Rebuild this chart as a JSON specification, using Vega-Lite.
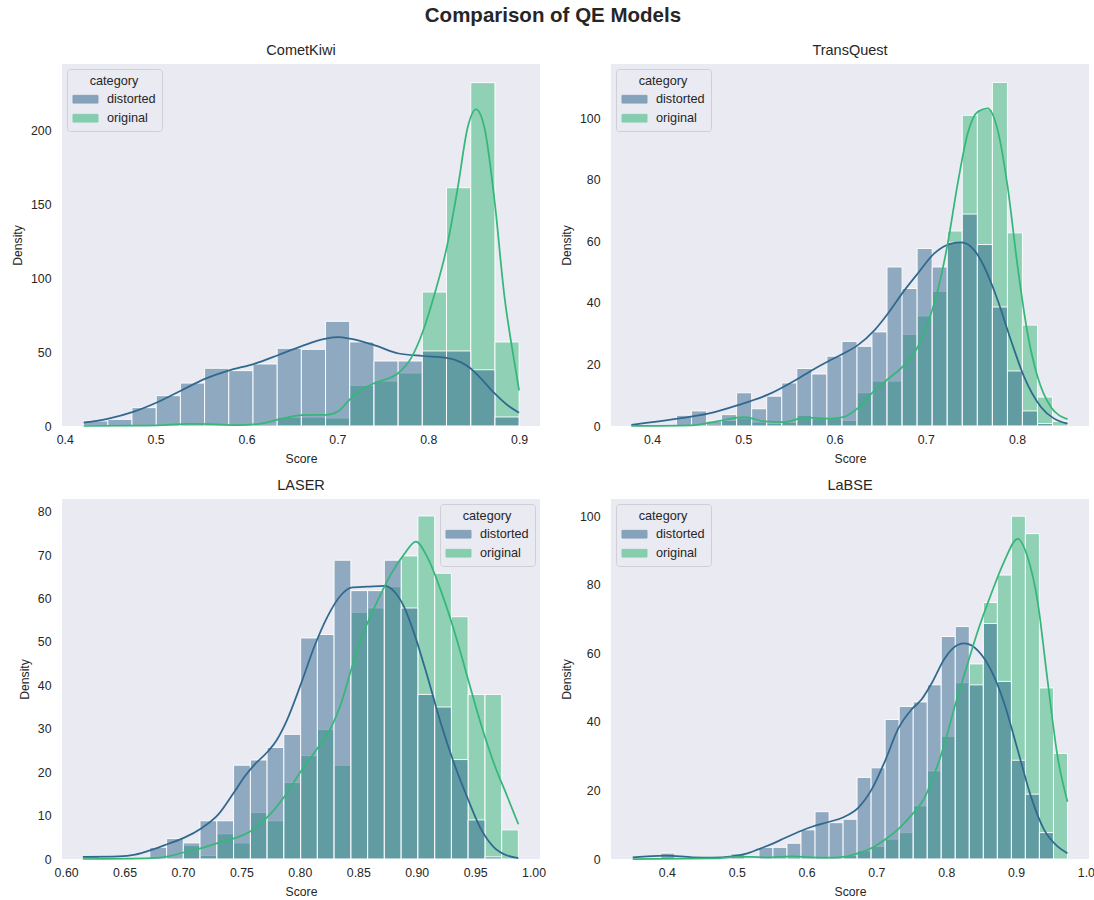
{
  "$schema": "https://vega.github.io/schema/vega-lite/v6.json",
  "background": "white",
  "padding": {"left": 11, "top": 6, "right": 5, "bottom": 5},
  "title": {"text": "Comparison of QE Models", "fontSize": 20.5, "fontWeight": "bold", "font": "Liberation Sans", "color": "#262626", "anchor": "middle", "frame": "bounds", "offset": 16},
  "config": {
    "view": {"fill": "#eaeaf2", "stroke": null},
    "axis": {"domain": false, "ticks": false, "grid": false, "labelFont": "Liberation Sans", "labelFontSize": 12.3, "labelColor": "#262626", "titleFont": "Liberation Sans", "titleFontSize": 12.2, "titleFontWeight": "normal", "titleColor": "#262626", "labelFlush": false, "labelOverlap": false},
    "axisX": {"labelPadding": 7, "titlePadding": 7},
    "axisY": {"labelPadding": 11, "titlePadding": 6},
    "title": {"font": "Liberation Sans", "fontSize": 14.5, "fontWeight": "normal", "color": "#262626", "anchor": "middle", "offset": 6},
    "legend": {"titleFont": "Liberation Sans", "titleFontSize": 12.7, "titleFontWeight": "normal", "titleColor": "#262626", "titleAnchor": "middle", "titlePadding": 4, "labelFont": "Liberation Sans", "labelFontSize": 12.7, "labelColor": "#262626", "labelOffset": 14, "symbolType": "M-1.786,-0.55H1.786V0.55H-1.786Z", "symbolSize": 196, "symbolOffset": 5, "symbolStrokeColor": "white", "symbolStrokeWidth": 1, "symbolOpacity": 0.55, "padding": 6, "rowPadding": 4, "fillColor": "#eaeaf2", "strokeColor": "#cfcfd6", "cornerRadius": 3, "offset": 5}
  },
  "datasets": {
    "hist": [
      {"model": "CometKiwi", "category": "original", "start": 0.5007, "end": 0.5273, "density": 0.8},
      {"model": "CometKiwi", "category": "original", "start": 0.5273, "end": 0.5539, "density": 1},
      {"model": "CometKiwi", "category": "original", "start": 0.5539, "end": 0.5805, "density": 0.8},
      {"model": "CometKiwi", "category": "original", "start": 0.5805, "end": 0.6072, "density": 0.4},
      {"model": "CometKiwi", "category": "original", "start": 0.6072, "end": 0.6338, "density": 0.8},
      {"model": "CometKiwi", "category": "original", "start": 0.6338, "end": 0.6604, "density": 6},
      {"model": "CometKiwi", "category": "original", "start": 0.6604, "end": 0.6870, "density": 6},
      {"model": "CometKiwi", "category": "original", "start": 0.6870, "end": 0.7136, "density": 5.4},
      {"model": "CometKiwi", "category": "original", "start": 0.7136, "end": 0.7403, "density": 27.5},
      {"model": "CometKiwi", "category": "original", "start": 0.7403, "end": 0.7669, "density": 30.4},
      {"model": "CometKiwi", "category": "original", "start": 0.7669, "end": 0.7935, "density": 35.8},
      {"model": "CometKiwi", "category": "original", "start": 0.7935, "end": 0.8201, "density": 90.5},
      {"model": "CometKiwi", "category": "original", "start": 0.8201, "end": 0.8468, "density": 161},
      {"model": "CometKiwi", "category": "original", "start": 0.8468, "end": 0.8734, "density": 232},
      {"model": "CometKiwi", "category": "original", "start": 0.8734, "end": 0.9000, "density": 56.8},
      {"model": "CometKiwi", "category": "distorted", "start": 0.4208, "end": 0.4474, "density": 3.4},
      {"model": "CometKiwi", "category": "distorted", "start": 0.4474, "end": 0.4740, "density": 4.5},
      {"model": "CometKiwi", "category": "distorted", "start": 0.4740, "end": 0.5007, "density": 12.4},
      {"model": "CometKiwi", "category": "distorted", "start": 0.5007, "end": 0.5273, "density": 20.5},
      {"model": "CometKiwi", "category": "distorted", "start": 0.5273, "end": 0.5539, "density": 29},
      {"model": "CometKiwi", "category": "distorted", "start": 0.5539, "end": 0.5805, "density": 39},
      {"model": "CometKiwi", "category": "distorted", "start": 0.5805, "end": 0.6072, "density": 37.4},
      {"model": "CometKiwi", "category": "distorted", "start": 0.6072, "end": 0.6338, "density": 41.9},
      {"model": "CometKiwi", "category": "distorted", "start": 0.6338, "end": 0.6604, "density": 52.5},
      {"model": "CometKiwi", "category": "distorted", "start": 0.6604, "end": 0.6870, "density": 51.8},
      {"model": "CometKiwi", "category": "distorted", "start": 0.6870, "end": 0.7136, "density": 70.7},
      {"model": "CometKiwi", "category": "distorted", "start": 0.7136, "end": 0.7403, "density": 56.8},
      {"model": "CometKiwi", "category": "distorted", "start": 0.7403, "end": 0.7669, "density": 43.9},
      {"model": "CometKiwi", "category": "distorted", "start": 0.7669, "end": 0.7935, "density": 43.9},
      {"model": "CometKiwi", "category": "distorted", "start": 0.7935, "end": 0.8201, "density": 50.7},
      {"model": "CometKiwi", "category": "distorted", "start": 0.8201, "end": 0.8468, "density": 50.7},
      {"model": "CometKiwi", "category": "distorted", "start": 0.8468, "end": 0.8734, "density": 38},
      {"model": "CometKiwi", "category": "distorted", "start": 0.8734, "end": 0.9000, "density": 6.1},

      {"model": "TransQuest", "category": "original", "start": 0.4598, "end": 0.4762, "density": 0.5},
      {"model": "TransQuest", "category": "original", "start": 0.4762, "end": 0.4927, "density": 1.8},
      {"model": "TransQuest", "category": "original", "start": 0.4927, "end": 0.5092, "density": 2.6},
      {"model": "TransQuest", "category": "original", "start": 0.5092, "end": 0.5257, "density": 1.3},
      {"model": "TransQuest", "category": "original", "start": 0.5257, "end": 0.5422, "density": 0.8},
      {"model": "TransQuest", "category": "original", "start": 0.5422, "end": 0.5587, "density": 1.2},
      {"model": "TransQuest", "category": "original", "start": 0.5587, "end": 0.5752, "density": 3.5},
      {"model": "TransQuest", "category": "original", "start": 0.5752, "end": 0.5917, "density": 2.4},
      {"model": "TransQuest", "category": "original", "start": 0.5917, "end": 0.6082, "density": 2.4},
      {"model": "TransQuest", "category": "original", "start": 0.6082, "end": 0.6247, "density": 1.8},
      {"model": "TransQuest", "category": "original", "start": 0.6247, "end": 0.6411, "density": 10.8},
      {"model": "TransQuest", "category": "original", "start": 0.6411, "end": 0.6576, "density": 14.6},
      {"model": "TransQuest", "category": "original", "start": 0.6576, "end": 0.6741, "density": 14.6},
      {"model": "TransQuest", "category": "original", "start": 0.6741, "end": 0.6906, "density": 29.8},
      {"model": "TransQuest", "category": "original", "start": 0.6906, "end": 0.7071, "density": 35.8},
      {"model": "TransQuest", "category": "original", "start": 0.7071, "end": 0.7236, "density": 43.8},
      {"model": "TransQuest", "category": "original", "start": 0.7236, "end": 0.7401, "density": 63.4},
      {"model": "TransQuest", "category": "original", "start": 0.7401, "end": 0.7566, "density": 101},
      {"model": "TransQuest", "category": "original", "start": 0.7566, "end": 0.7731, "density": 103},
      {"model": "TransQuest", "category": "original", "start": 0.7731, "end": 0.7896, "density": 111.7},
      {"model": "TransQuest", "category": "original", "start": 0.7896, "end": 0.8060, "density": 62.8},
      {"model": "TransQuest", "category": "original", "start": 0.8060, "end": 0.8225, "density": 32.8},
      {"model": "TransQuest", "category": "original", "start": 0.8225, "end": 0.8390, "density": 9.4},
      {"model": "TransQuest", "category": "original", "start": 0.8390, "end": 0.8555, "density": 1.5},
      {"model": "TransQuest", "category": "distorted", "start": 0.4268, "end": 0.4433, "density": 3.5},
      {"model": "TransQuest", "category": "distorted", "start": 0.4433, "end": 0.4598, "density": 4.9},
      {"model": "TransQuest", "category": "distorted", "start": 0.4598, "end": 0.4762, "density": 1.6},
      {"model": "TransQuest", "category": "distorted", "start": 0.4762, "end": 0.4927, "density": 3.7},
      {"model": "TransQuest", "category": "distorted", "start": 0.4927, "end": 0.5092, "density": 10.8},
      {"model": "TransQuest", "category": "distorted", "start": 0.5092, "end": 0.5257, "density": 5.6},
      {"model": "TransQuest", "category": "distorted", "start": 0.5257, "end": 0.5422, "density": 9.7},
      {"model": "TransQuest", "category": "distorted", "start": 0.5422, "end": 0.5587, "density": 14},
      {"model": "TransQuest", "category": "distorted", "start": 0.5587, "end": 0.5752, "density": 18.7},
      {"model": "TransQuest", "category": "distorted", "start": 0.5752, "end": 0.5917, "density": 16.9},
      {"model": "TransQuest", "category": "distorted", "start": 0.5917, "end": 0.6082, "density": 22.7},
      {"model": "TransQuest", "category": "distorted", "start": 0.6082, "end": 0.6247, "density": 27.5},
      {"model": "TransQuest", "category": "distorted", "start": 0.6247, "end": 0.6411, "density": 25.9},
      {"model": "TransQuest", "category": "distorted", "start": 0.6411, "end": 0.6576, "density": 30.6},
      {"model": "TransQuest", "category": "distorted", "start": 0.6576, "end": 0.6741, "density": 51.7},
      {"model": "TransQuest", "category": "distorted", "start": 0.6741, "end": 0.6906, "density": 44.7},
      {"model": "TransQuest", "category": "distorted", "start": 0.6906, "end": 0.7071, "density": 57.7},
      {"model": "TransQuest", "category": "distorted", "start": 0.7071, "end": 0.7236, "density": 51.7},
      {"model": "TransQuest", "category": "distorted", "start": 0.7236, "end": 0.7401, "density": 59.7},
      {"model": "TransQuest", "category": "distorted", "start": 0.7401, "end": 0.7566, "density": 68.9},
      {"model": "TransQuest", "category": "distorted", "start": 0.7566, "end": 0.7731, "density": 59},
      {"model": "TransQuest", "category": "distorted", "start": 0.7731, "end": 0.7896, "density": 38.7},
      {"model": "TransQuest", "category": "distorted", "start": 0.7896, "end": 0.8060, "density": 17.9},
      {"model": "TransQuest", "category": "distorted", "start": 0.8060, "end": 0.8225, "density": 4.9},
      {"model": "TransQuest", "category": "distorted", "start": 0.8225, "end": 0.8390, "density": 0.8},

      {"model": "LASER", "category": "original", "start": 0.7003, "end": 0.7146, "density": 3.1},
      {"model": "LASER", "category": "original", "start": 0.7146, "end": 0.7290, "density": 0.8},
      {"model": "LASER", "category": "original", "start": 0.7290, "end": 0.7433, "density": 5.8},
      {"model": "LASER", "category": "original", "start": 0.7433, "end": 0.7577, "density": 3.7},
      {"model": "LASER", "category": "original", "start": 0.7577, "end": 0.7720, "density": 10.7},
      {"model": "LASER", "category": "original", "start": 0.7720, "end": 0.7863, "density": 8.8},
      {"model": "LASER", "category": "original", "start": 0.7863, "end": 0.8007, "density": 17.6},
      {"model": "LASER", "category": "original", "start": 0.8007, "end": 0.8150, "density": 23.8},
      {"model": "LASER", "category": "original", "start": 0.8150, "end": 0.8293, "density": 29.8},
      {"model": "LASER", "category": "original", "start": 0.8293, "end": 0.8437, "density": 21.6},
      {"model": "LASER", "category": "original", "start": 0.8437, "end": 0.8580, "density": 56.8},
      {"model": "LASER", "category": "original", "start": 0.8580, "end": 0.8723, "density": 57.8},
      {"model": "LASER", "category": "original", "start": 0.8723, "end": 0.8867, "density": 62.7},
      {"model": "LASER", "category": "original", "start": 0.8867, "end": 0.9010, "density": 69.8},
      {"model": "LASER", "category": "original", "start": 0.9010, "end": 0.9154, "density": 79},
      {"model": "LASER", "category": "original", "start": 0.9154, "end": 0.9297, "density": 65.8},
      {"model": "LASER", "category": "original", "start": 0.9297, "end": 0.9440, "density": 55.8},
      {"model": "LASER", "category": "original", "start": 0.9440, "end": 0.9584, "density": 37.9},
      {"model": "LASER", "category": "original", "start": 0.9584, "end": 0.9727, "density": 37.9},
      {"model": "LASER", "category": "original", "start": 0.9727, "end": 0.9870, "density": 6.7},
      {"model": "LASER", "category": "distorted", "start": 0.6143, "end": 0.6286, "density": 0.6},
      {"model": "LASER", "category": "distorted", "start": 0.6716, "end": 0.6860, "density": 2.7},
      {"model": "LASER", "category": "distorted", "start": 0.6860, "end": 0.7003, "density": 4.7},
      {"model": "LASER", "category": "distorted", "start": 0.7003, "end": 0.7146, "density": 3.7},
      {"model": "LASER", "category": "distorted", "start": 0.7146, "end": 0.7290, "density": 8.8},
      {"model": "LASER", "category": "distorted", "start": 0.7290, "end": 0.7433, "density": 8.8},
      {"model": "LASER", "category": "distorted", "start": 0.7433, "end": 0.7577, "density": 21.6},
      {"model": "LASER", "category": "distorted", "start": 0.7577, "end": 0.7720, "density": 22.8},
      {"model": "LASER", "category": "distorted", "start": 0.7720, "end": 0.7863, "density": 25.7},
      {"model": "LASER", "category": "distorted", "start": 0.7863, "end": 0.8007, "density": 28.7},
      {"model": "LASER", "category": "distorted", "start": 0.8007, "end": 0.8150, "density": 50.9},
      {"model": "LASER", "category": "distorted", "start": 0.8150, "end": 0.8293, "density": 51.7},
      {"model": "LASER", "category": "distorted", "start": 0.8293, "end": 0.8437, "density": 68.8},
      {"model": "LASER", "category": "distorted", "start": 0.8437, "end": 0.8580, "density": 61.8},
      {"model": "LASER", "category": "distorted", "start": 0.8580, "end": 0.8723, "density": 61.8},
      {"model": "LASER", "category": "distorted", "start": 0.8723, "end": 0.8867, "density": 68.8},
      {"model": "LASER", "category": "distorted", "start": 0.8867, "end": 0.9010, "density": 57.8},
      {"model": "LASER", "category": "distorted", "start": 0.9010, "end": 0.9154, "density": 37.9},
      {"model": "LASER", "category": "distorted", "start": 0.9154, "end": 0.9297, "density": 35},
      {"model": "LASER", "category": "distorted", "start": 0.9297, "end": 0.9440, "density": 22.9},
      {"model": "LASER", "category": "distorted", "start": 0.9440, "end": 0.9584, "density": 9},
      {"model": "LASER", "category": "distorted", "start": 0.9584, "end": 0.9727, "density": 0.5},

      {"model": "LaBSE", "category": "original", "start": 0.5720, "end": 0.5921, "density": 0.5},
      {"model": "LaBSE", "category": "original", "start": 0.5921, "end": 0.6122, "density": 0.5},
      {"model": "LaBSE", "category": "original", "start": 0.6122, "end": 0.6323, "density": 0.5},
      {"model": "LaBSE", "category": "original", "start": 0.6323, "end": 0.6524, "density": 0.5},
      {"model": "LaBSE", "category": "original", "start": 0.6524, "end": 0.6724, "density": 1},
      {"model": "LaBSE", "category": "original", "start": 0.6724, "end": 0.6925, "density": 2.4},
      {"model": "LaBSE", "category": "original", "start": 0.6925, "end": 0.7126, "density": 3.7},
      {"model": "LaBSE", "category": "original", "start": 0.7126, "end": 0.7327, "density": 5.8},
      {"model": "LaBSE", "category": "original", "start": 0.7327, "end": 0.7528, "density": 7.7},
      {"model": "LaBSE", "category": "original", "start": 0.7528, "end": 0.7729, "density": 15.5},
      {"model": "LaBSE", "category": "original", "start": 0.7729, "end": 0.7929, "density": 25.7},
      {"model": "LaBSE", "category": "original", "start": 0.7929, "end": 0.8130, "density": 35.8},
      {"model": "LaBSE", "category": "original", "start": 0.8130, "end": 0.8331, "density": 51.4},
      {"model": "LaBSE", "category": "original", "start": 0.8331, "end": 0.8532, "density": 56.9},
      {"model": "LaBSE", "category": "original", "start": 0.8532, "end": 0.8733, "density": 74.8},
      {"model": "LaBSE", "category": "original", "start": 0.8733, "end": 0.8934, "density": 82.8},
      {"model": "LaBSE", "category": "original", "start": 0.8934, "end": 0.9134, "density": 100},
      {"model": "LaBSE", "category": "original", "start": 0.9134, "end": 0.9335, "density": 94.9},
      {"model": "LaBSE", "category": "original", "start": 0.9335, "end": 0.9536, "density": 49.9},
      {"model": "LaBSE", "category": "original", "start": 0.9536, "end": 0.9737, "density": 30.8},
      {"model": "LaBSE", "category": "distorted", "start": 0.3913, "end": 0.4114, "density": 1.7},
      {"model": "LaBSE", "category": "distorted", "start": 0.4917, "end": 0.5118, "density": 1.5},
      {"model": "LaBSE", "category": "distorted", "start": 0.5319, "end": 0.5519, "density": 3.4},
      {"model": "LaBSE", "category": "distorted", "start": 0.5519, "end": 0.5720, "density": 3.4},
      {"model": "LaBSE", "category": "distorted", "start": 0.5720, "end": 0.5921, "density": 4.6},
      {"model": "LaBSE", "category": "distorted", "start": 0.5921, "end": 0.6122, "density": 8.5},
      {"model": "LaBSE", "category": "distorted", "start": 0.6122, "end": 0.6323, "density": 13.8},
      {"model": "LaBSE", "category": "distorted", "start": 0.6323, "end": 0.6524, "density": 10.6},
      {"model": "LaBSE", "category": "distorted", "start": 0.6524, "end": 0.6724, "density": 11.6},
      {"model": "LaBSE", "category": "distorted", "start": 0.6724, "end": 0.6925, "density": 23.8},
      {"model": "LaBSE", "category": "distorted", "start": 0.6925, "end": 0.7126, "density": 26.6},
      {"model": "LaBSE", "category": "distorted", "start": 0.7126, "end": 0.7327, "density": 40.7},
      {"model": "LaBSE", "category": "distorted", "start": 0.7327, "end": 0.7528, "density": 44.5},
      {"model": "LaBSE", "category": "distorted", "start": 0.7528, "end": 0.7729, "density": 45.8},
      {"model": "LaBSE", "category": "distorted", "start": 0.7729, "end": 0.7929, "density": 50.8},
      {"model": "LaBSE", "category": "distorted", "start": 0.7929, "end": 0.8130, "density": 64.9},
      {"model": "LaBSE", "category": "distorted", "start": 0.8130, "end": 0.8331, "density": 67.8},
      {"model": "LaBSE", "category": "distorted", "start": 0.8331, "end": 0.8532, "density": 50.8},
      {"model": "LaBSE", "category": "distorted", "start": 0.8532, "end": 0.8733, "density": 68.7},
      {"model": "LaBSE", "category": "distorted", "start": 0.8733, "end": 0.8934, "density": 51.8},
      {"model": "LaBSE", "category": "distorted", "start": 0.8934, "end": 0.9134, "density": 28.8},
      {"model": "LaBSE", "category": "distorted", "start": 0.9134, "end": 0.9335, "density": 18.9},
      {"model": "LaBSE", "category": "distorted", "start": 0.9335, "end": 0.9536, "density": 7.7}
    ],
    "kde": [
      {"model": "CometKiwi", "category": "distorted", "score": 0.4208, "density": 2.3},
      {"model": "CometKiwi", "category": "distorted", "score": 0.4482, "density": 5},
      {"model": "CometKiwi", "category": "distorted", "score": 0.4753, "density": 9.5},
      {"model": "CometKiwi", "category": "distorted", "score": 0.5019, "density": 16},
      {"model": "CometKiwi", "category": "distorted", "score": 0.5282, "density": 24},
      {"model": "CometKiwi", "category": "distorted", "score": 0.5549, "density": 32},
      {"model": "CometKiwi", "category": "distorted", "score": 0.5812, "density": 37.6},
      {"model": "CometKiwi", "category": "distorted", "score": 0.6086, "density": 42},
      {"model": "CometKiwi", "category": "distorted", "score": 0.6353, "density": 48},
      {"model": "CometKiwi", "category": "distorted", "score": 0.6608, "density": 54},
      {"model": "CometKiwi", "category": "distorted", "score": 0.6875, "density": 59},
      {"model": "CometKiwi", "category": "distorted", "score": 0.7010, "density": 60},
      {"model": "CometKiwi", "category": "distorted", "score": 0.7138, "density": 59},
      {"model": "CometKiwi", "category": "distorted", "score": 0.7412, "density": 54.5},
      {"model": "CometKiwi", "category": "distorted", "score": 0.7675, "density": 49},
      {"model": "CometKiwi", "category": "distorted", "score": 0.7942, "density": 47.3},
      {"model": "CometKiwi", "category": "distorted", "score": 0.8205, "density": 46},
      {"model": "CometKiwi", "category": "distorted", "score": 0.8362, "density": 43},
      {"model": "CometKiwi", "category": "distorted", "score": 0.8471, "density": 38.7},
      {"model": "CometKiwi", "category": "distorted", "score": 0.8581, "density": 32},
      {"model": "CometKiwi", "category": "distorted", "score": 0.8734, "density": 21.8},
      {"model": "CometKiwi", "category": "distorted", "score": 0.8873, "density": 14},
      {"model": "CometKiwi", "category": "distorted", "score": 0.9000, "density": 9},
      {"model": "CometKiwi", "category": "original", "score": 0.4208, "density": 0},
      {"model": "CometKiwi", "category": "original", "score": 0.4753, "density": 0.2},
      {"model": "CometKiwi", "category": "original", "score": 0.5019, "density": 0.5},
      {"model": "CometKiwi", "category": "original", "score": 0.5375, "density": 1.5},
      {"model": "CometKiwi", "category": "original", "score": 0.5612, "density": 1.3},
      {"model": "CometKiwi", "category": "original", "score": 0.5904, "density": 0.6},
      {"model": "CometKiwi", "category": "original", "score": 0.6160, "density": 1.6},
      {"model": "CometKiwi", "category": "original", "score": 0.6379, "density": 4.8},
      {"model": "CometKiwi", "category": "original", "score": 0.6608, "density": 7.4},
      {"model": "CometKiwi", "category": "original", "score": 0.6875, "density": 7.5},
      {"model": "CometKiwi", "category": "original", "score": 0.7010, "density": 10},
      {"model": "CometKiwi", "category": "original", "score": 0.7138, "density": 18},
      {"model": "CometKiwi", "category": "original", "score": 0.7249, "density": 24},
      {"model": "CometKiwi", "category": "original", "score": 0.7412, "density": 29},
      {"model": "CometKiwi", "category": "original", "score": 0.7675, "density": 36},
      {"model": "CometKiwi", "category": "original", "score": 0.7813, "density": 46},
      {"model": "CometKiwi", "category": "original", "score": 0.7942, "density": 64},
      {"model": "CometKiwi", "category": "original", "score": 0.8069, "density": 89},
      {"model": "CometKiwi", "category": "original", "score": 0.8205, "density": 121},
      {"model": "CometKiwi", "category": "original", "score": 0.8325, "density": 161},
      {"model": "CometKiwi", "category": "original", "score": 0.8435, "density": 202},
      {"model": "CometKiwi", "category": "original", "score": 0.8526, "density": 214},
      {"model": "CometKiwi", "category": "original", "score": 0.8617, "density": 202},
      {"model": "CometKiwi", "category": "original", "score": 0.8734, "density": 150},
      {"model": "CometKiwi", "category": "original", "score": 0.8836, "density": 89},
      {"model": "CometKiwi", "category": "original", "score": 0.8946, "density": 44},
      {"model": "CometKiwi", "category": "original", "score": 0.9000, "density": 24},

      {"model": "TransQuest", "category": "distorted", "score": 0.3773, "density": 0.4},
      {"model": "TransQuest", "category": "distorted", "score": 0.4285, "density": 2.4},
      {"model": "TransQuest", "category": "distorted", "score": 0.4613, "density": 4},
      {"model": "TransQuest", "category": "distorted", "score": 0.4942, "density": 6.8},
      {"model": "TransQuest", "category": "distorted", "score": 0.5270, "density": 10.2},
      {"model": "TransQuest", "category": "distorted", "score": 0.5599, "density": 15.4},
      {"model": "TransQuest", "category": "distorted", "score": 0.5744, "density": 18},
      {"model": "TransQuest", "category": "distorted", "score": 0.5927, "density": 21},
      {"model": "TransQuest", "category": "distorted", "score": 0.6109, "density": 23.7},
      {"model": "TransQuest", "category": "distorted", "score": 0.6256, "density": 26.3},
      {"model": "TransQuest", "category": "distorted", "score": 0.6437, "density": 31.1},
      {"model": "TransQuest", "category": "distorted", "score": 0.6584, "density": 36.5},
      {"model": "TransQuest", "category": "distorted", "score": 0.6766, "density": 44.1},
      {"model": "TransQuest", "category": "distorted", "score": 0.6913, "density": 49.6},
      {"model": "TransQuest", "category": "distorted", "score": 0.7094, "density": 56.1},
      {"model": "TransQuest", "category": "distorted", "score": 0.7277, "density": 59.3},
      {"model": "TransQuest", "category": "distorted", "score": 0.7387, "density": 59.7},
      {"model": "TransQuest", "category": "distorted", "score": 0.7532, "density": 57.2},
      {"model": "TransQuest", "category": "distorted", "score": 0.7642, "density": 51.7},
      {"model": "TransQuest", "category": "distorted", "score": 0.7789, "density": 40.9},
      {"model": "TransQuest", "category": "distorted", "score": 0.7934, "density": 27.9},
      {"model": "TransQuest", "category": "distorted", "score": 0.8080, "density": 15.9},
      {"model": "TransQuest", "category": "distorted", "score": 0.8263, "density": 6.2},
      {"model": "TransQuest", "category": "distorted", "score": 0.8408, "density": 2.4},
      {"model": "TransQuest", "category": "distorted", "score": 0.8555, "density": 0.8},
      {"model": "TransQuest", "category": "original", "score": 0.3773, "density": 0},
      {"model": "TransQuest", "category": "original", "score": 0.4430, "density": 0.2},
      {"model": "TransQuest", "category": "original", "score": 0.4723, "density": 1.6},
      {"model": "TransQuest", "category": "original", "score": 0.5014, "density": 2.9},
      {"model": "TransQuest", "category": "original", "score": 0.5233, "density": 1.5},
      {"model": "TransQuest", "category": "original", "score": 0.5452, "density": 1.3},
      {"model": "TransQuest", "category": "original", "score": 0.5671, "density": 2.7},
      {"model": "TransQuest", "category": "original", "score": 0.5963, "density": 2.4},
      {"model": "TransQuest", "category": "original", "score": 0.6109, "density": 3.0},
      {"model": "TransQuest", "category": "original", "score": 0.6256, "density": 5.8},
      {"model": "TransQuest", "category": "original", "score": 0.6437, "density": 11.5},
      {"model": "TransQuest", "category": "original", "score": 0.6584, "density": 15.2},
      {"model": "TransQuest", "category": "original", "score": 0.6766, "density": 19.9},
      {"model": "TransQuest", "category": "original", "score": 0.6913, "density": 25.7},
      {"model": "TransQuest", "category": "original", "score": 0.7022, "density": 33.3},
      {"model": "TransQuest", "category": "original", "score": 0.7132, "density": 44.1},
      {"model": "TransQuest", "category": "original", "score": 0.7241, "density": 59.3},
      {"model": "TransQuest", "category": "original", "score": 0.7351, "density": 78.9},
      {"model": "TransQuest", "category": "original", "score": 0.7460, "density": 95.1},
      {"model": "TransQuest", "category": "original", "score": 0.7570, "density": 102.2},
      {"model": "TransQuest", "category": "original", "score": 0.7679, "density": 103.3},
      {"model": "TransQuest", "category": "original", "score": 0.7789, "density": 96.2},
      {"model": "TransQuest", "category": "original", "score": 0.7898, "density": 77.8},
      {"model": "TransQuest", "category": "original", "score": 0.8008, "density": 51.7},
      {"model": "TransQuest", "category": "original", "score": 0.8117, "density": 30},
      {"model": "TransQuest", "category": "original", "score": 0.8227, "density": 15.9},
      {"model": "TransQuest", "category": "original", "score": 0.8372, "density": 6.2},
      {"model": "TransQuest", "category": "original", "score": 0.8555, "density": 2.2},

      {"model": "LASER", "category": "distorted", "score": 0.6143, "density": 0.5},
      {"model": "LASER", "category": "distorted", "score": 0.6448, "density": 0.6},
      {"model": "LASER", "category": "distorted", "score": 0.6590, "density": 1},
      {"model": "LASER", "category": "distorted", "score": 0.6732, "density": 2.1},
      {"model": "LASER", "category": "distorted", "score": 0.6875, "density": 3.5},
      {"model": "LASER", "category": "distorted", "score": 0.7003, "density": 4.8},
      {"model": "LASER", "category": "distorted", "score": 0.7159, "density": 7.1},
      {"model": "LASER", "category": "distorted", "score": 0.7301, "density": 10.2},
      {"model": "LASER", "category": "distorted", "score": 0.7443, "density": 15.6},
      {"model": "LASER", "category": "distorted", "score": 0.7528, "density": 19},
      {"model": "LASER", "category": "distorted", "score": 0.7614, "density": 21.8},
      {"model": "LASER", "category": "distorted", "score": 0.7728, "density": 24.8},
      {"model": "LASER", "category": "distorted", "score": 0.7800, "density": 27.3},
      {"model": "LASER", "category": "distorted", "score": 0.7890, "density": 32},
      {"model": "LASER", "category": "distorted", "score": 0.8012, "density": 40.5},
      {"model": "LASER", "category": "distorted", "score": 0.8125, "density": 49},
      {"model": "LASER", "category": "distorted", "score": 0.8240, "density": 56},
      {"model": "LASER", "category": "distorted", "score": 0.8353, "density": 60.8},
      {"model": "LASER", "category": "distorted", "score": 0.8439, "density": 62.5},
      {"model": "LASER", "category": "distorted", "score": 0.8581, "density": 62.7},
      {"model": "LASER", "category": "distorted", "score": 0.8723, "density": 62.9},
      {"model": "LASER", "category": "distorted", "score": 0.8808, "density": 61.6},
      {"model": "LASER", "category": "distorted", "score": 0.8893, "density": 58},
      {"model": "LASER", "category": "distorted", "score": 0.8979, "density": 51.9},
      {"model": "LASER", "category": "distorted", "score": 0.9093, "density": 41.9},
      {"model": "LASER", "category": "distorted", "score": 0.9207, "density": 31.2},
      {"model": "LASER", "category": "distorted", "score": 0.9320, "density": 22},
      {"model": "LASER", "category": "distorted", "score": 0.9434, "density": 14.1},
      {"model": "LASER", "category": "distorted", "score": 0.9548, "density": 7},
      {"model": "LASER", "category": "distorted", "score": 0.9661, "density": 2.7},
      {"model": "LASER", "category": "distorted", "score": 0.9775, "density": 0.8},
      {"model": "LASER", "category": "distorted", "score": 0.9870, "density": 0.2},
      {"model": "LASER", "category": "original", "score": 0.6143, "density": 0},
      {"model": "LASER", "category": "original", "score": 0.6732, "density": 0.2},
      {"model": "LASER", "category": "original", "score": 0.6875, "density": 0.6},
      {"model": "LASER", "category": "original", "score": 0.7003, "density": 1.5},
      {"model": "LASER", "category": "original", "score": 0.7159, "density": 2.5},
      {"model": "LASER", "category": "original", "score": 0.7301, "density": 3.7},
      {"model": "LASER", "category": "original", "score": 0.7443, "density": 4.8},
      {"model": "LASER", "category": "original", "score": 0.7586, "density": 6.5},
      {"model": "LASER", "category": "original", "score": 0.7728, "density": 9.8},
      {"model": "LASER", "category": "original", "score": 0.7869, "density": 14.4},
      {"model": "LASER", "category": "original", "score": 0.8012, "density": 20.3},
      {"model": "LASER", "category": "original", "score": 0.8140, "density": 25.1},
      {"model": "LASER", "category": "original", "score": 0.8268, "density": 30.3},
      {"model": "LASER", "category": "original", "score": 0.8353, "density": 35.8},
      {"model": "LASER", "category": "original", "score": 0.8439, "density": 43.6},
      {"model": "LASER", "category": "original", "score": 0.8552, "density": 52.6},
      {"model": "LASER", "category": "original", "score": 0.8666, "density": 59.5},
      {"model": "LASER", "category": "original", "score": 0.8780, "density": 65.6},
      {"model": "LASER", "category": "original", "score": 0.8893, "density": 70.2},
      {"model": "LASER", "category": "original", "score": 0.8993, "density": 73.1},
      {"model": "LASER", "category": "original", "score": 0.9093, "density": 69.4},
      {"model": "LASER", "category": "original", "score": 0.9207, "density": 61.8},
      {"model": "LASER", "category": "original", "score": 0.9320, "density": 52.6},
      {"model": "LASER", "category": "original", "score": 0.9434, "density": 41.9},
      {"model": "LASER", "category": "original", "score": 0.9548, "density": 31.2},
      {"model": "LASER", "category": "original", "score": 0.9661, "density": 22},
      {"model": "LASER", "category": "original", "score": 0.9775, "density": 14.4},
      {"model": "LASER", "category": "original", "score": 0.9870, "density": 8},

      {"model": "LaBSE", "category": "distorted", "score": 0.3511, "density": 0.5},
      {"model": "LaBSE", "category": "distorted", "score": 0.3986, "density": 1},
      {"model": "LaBSE", "category": "distorted", "score": 0.4366, "density": 0.5},
      {"model": "LaBSE", "category": "distorted", "score": 0.4652, "density": 0.4},
      {"model": "LaBSE", "category": "distorted", "score": 0.4937, "density": 0.8},
      {"model": "LaBSE", "category": "distorted", "score": 0.5126, "density": 1.5},
      {"model": "LaBSE", "category": "distorted", "score": 0.5317, "density": 2.9},
      {"model": "LaBSE", "category": "distorted", "score": 0.5507, "density": 4.4},
      {"model": "LaBSE", "category": "distorted", "score": 0.5697, "density": 6.2},
      {"model": "LaBSE", "category": "distorted", "score": 0.5935, "density": 8.3},
      {"model": "LaBSE", "category": "distorted", "score": 0.6077, "density": 9.4},
      {"model": "LaBSE", "category": "distorted", "score": 0.6315, "density": 10.8},
      {"model": "LaBSE", "category": "distorted", "score": 0.6529, "density": 12.2},
      {"model": "LaBSE", "category": "distorted", "score": 0.6743, "density": 15},
      {"model": "LaBSE", "category": "distorted", "score": 0.6933, "density": 20.3},
      {"model": "LaBSE", "category": "distorted", "score": 0.7122, "density": 28.5},
      {"model": "LaBSE", "category": "distorted", "score": 0.7313, "density": 38},
      {"model": "LaBSE", "category": "distorted", "score": 0.7503, "density": 43.6},
      {"model": "LaBSE", "category": "distorted", "score": 0.7646, "density": 46.5},
      {"model": "LaBSE", "category": "distorted", "score": 0.7788, "density": 51.1},
      {"model": "LaBSE", "category": "distorted", "score": 0.7978, "density": 58.5},
      {"model": "LaBSE", "category": "distorted", "score": 0.8169, "density": 62.5},
      {"model": "LaBSE", "category": "distorted", "score": 0.8263, "density": 62.9},
      {"model": "LaBSE", "category": "distorted", "score": 0.8454, "density": 60.8},
      {"model": "LaBSE", "category": "distorted", "score": 0.8644, "density": 55},
      {"model": "LaBSE", "category": "distorted", "score": 0.8833, "density": 45.3},
      {"model": "LaBSE", "category": "distorted", "score": 0.9024, "density": 31.8},
      {"model": "LaBSE", "category": "distorted", "score": 0.9214, "density": 18.2},
      {"model": "LaBSE", "category": "distorted", "score": 0.9403, "density": 8.5},
      {"model": "LaBSE", "category": "distorted", "score": 0.9594, "density": 3.7},
      {"model": "LaBSE", "category": "distorted", "score": 0.9737, "density": 1.7},
      {"model": "LaBSE", "category": "original", "score": 0.3511, "density": 0},
      {"model": "LaBSE", "category": "original", "score": 0.4747, "density": 0.2},
      {"model": "LaBSE", "category": "original", "score": 0.5032, "density": 0.7},
      {"model": "LaBSE", "category": "original", "score": 0.5411, "density": 0.5},
      {"model": "LaBSE", "category": "original", "score": 0.5792, "density": 0.8},
      {"model": "LaBSE", "category": "original", "score": 0.6077, "density": 0.5},
      {"model": "LaBSE", "category": "original", "score": 0.6362, "density": 0.4},
      {"model": "LaBSE", "category": "original", "score": 0.6552, "density": 0.7},
      {"model": "LaBSE", "category": "original", "score": 0.6743, "density": 1.7},
      {"model": "LaBSE", "category": "original", "score": 0.6933, "density": 3.2},
      {"model": "LaBSE", "category": "original", "score": 0.7122, "density": 5.6},
      {"model": "LaBSE", "category": "original", "score": 0.7313, "density": 8.7},
      {"model": "LaBSE", "category": "original", "score": 0.7503, "density": 12.8},
      {"model": "LaBSE", "category": "original", "score": 0.7693, "density": 18},
      {"model": "LaBSE", "category": "original", "score": 0.7835, "density": 25},
      {"model": "LaBSE", "category": "original", "score": 0.7978, "density": 33.7},
      {"model": "LaBSE", "category": "original", "score": 0.8120, "density": 44.3},
      {"model": "LaBSE", "category": "original", "score": 0.8263, "density": 54},
      {"model": "LaBSE", "category": "original", "score": 0.8454, "density": 66.6},
      {"model": "LaBSE", "category": "original", "score": 0.8644, "density": 77.3},
      {"model": "LaBSE", "category": "original", "score": 0.8833, "density": 86.9},
      {"model": "LaBSE", "category": "original", "score": 0.9024, "density": 93.4},
      {"model": "LaBSE", "category": "original", "score": 0.9167, "density": 88},
      {"model": "LaBSE", "category": "original", "score": 0.9310, "density": 75},
      {"model": "LaBSE", "category": "original", "score": 0.9452, "density": 52},
      {"model": "LaBSE", "category": "original", "score": 0.9594, "density": 30},
      {"model": "LaBSE", "category": "original", "score": 0.9737, "density": 16.7}
    ]
  },
  "concat": [
    {
      "title": "CometKiwi",
      "width": 478, "height": 362,
      "layer": [
        {"data": {"name": "hist"}, "transform": [{"filter": "datum.model === 'CometKiwi'"}],
         "mark": {"type": "bar", "fillOpacity": 0.5, "stroke": "white", "strokeWidth": 1, "strokeOpacity": 0.9},
         "encoding": {
           "x": {"field": "start", "type": "quantitative", "title": "Score", "scale": {"domain": [0.397, 0.923], "nice": false, "zero": false}, "axis": {"values": [0.4, 0.5, 0.6, 0.7, 0.8, 0.9], "format": ".1f"}},
           "x2": {"field": "end"},
           "y": {"field": "density", "type": "quantitative", "stack": null, "title": "Density", "scale": {"domain": [0, 244.6], "nice": false}, "axis": {"values": [0, 50, 100, 150, 200]}},
           "y2": {"datum": 0},
           "color": {"field": "category", "type": "nominal", "title": "category", "scale": {"domain": ["distorted", "original"], "range": ["#31688e", "#35b779"]}, "legend": {"orient": "top-left"}}
         }},
        {"data": {"name": "kde"}, "transform": [{"filter": "datum.model === 'CometKiwi'"}],
         "mark": {"type": "line", "strokeWidth": 1.75, "interpolate": "monotone"},
         "encoding": {
           "x": {"field": "score", "type": "quantitative", "title": "Score"},
           "y": {"field": "density", "type": "quantitative", "title": "Density"},
           "stroke": {"field": "category", "type": "nominal", "scale": {"domain": ["distorted", "original"], "range": ["#31688e", "#35b779"]}, "legend": null}
         }}
      ]
    },
    {
      "title": "TransQuest",
      "width": 478, "height": 362,
      "layer": [
        {"data": {"name": "hist"}, "transform": [{"filter": "datum.model === 'TransQuest'"}],
         "mark": {"type": "bar", "fillOpacity": 0.5, "stroke": "white", "strokeWidth": 1, "strokeOpacity": 0.9},
         "encoding": {
           "x": {"field": "start", "type": "quantitative", "title": "Score", "scale": {"domain": [0.355, 0.879], "nice": false, "zero": false}, "axis": {"values": [0.4, 0.5, 0.6, 0.7, 0.8], "format": ".1f"}},
           "x2": {"field": "end"},
           "y": {"field": "density", "type": "quantitative", "stack": null, "title": "Density", "scale": {"domain": [0, 117.7], "nice": false}, "axis": {"values": [0, 20, 40, 60, 80, 100]}},
           "y2": {"datum": 0},
           "color": {"field": "category", "type": "nominal", "title": "category", "scale": {"domain": ["distorted", "original"], "range": ["#31688e", "#35b779"]}, "legend": {"orient": "top-left"}}
         }},
        {"data": {"name": "kde"}, "transform": [{"filter": "datum.model === 'TransQuest'"}],
         "mark": {"type": "line", "strokeWidth": 1.75, "interpolate": "monotone"},
         "encoding": {
           "x": {"field": "score", "type": "quantitative", "title": "Score"},
           "y": {"field": "density", "type": "quantitative", "title": "Density"},
           "stroke": {"field": "category", "type": "nominal", "scale": {"domain": ["distorted", "original"], "range": ["#31688e", "#35b779"]}, "legend": null}
         }}
      ]
    },
    {
      "title": "LASER",
      "width": 478, "height": 360,
      "layer": [
        {"data": {"name": "hist"}, "transform": [{"filter": "datum.model === 'LASER'"}],
         "mark": {"type": "bar", "fillOpacity": 0.5, "stroke": "white", "strokeWidth": 1, "strokeOpacity": 0.9},
         "encoding": {
           "x": {"field": "start", "type": "quantitative", "title": "Score", "scale": {"domain": [0.5965, 1.0055], "nice": false, "zero": false}, "axis": {"values": [0.6, 0.65, 0.7, 0.75, 0.8, 0.85, 0.9, 0.95, 1.0], "format": ".2f"}},
           "x2": {"field": "end"},
           "y": {"field": "density", "type": "quantitative", "stack": null, "title": "Density", "scale": {"domain": [0, 82.9], "nice": false}, "axis": {"values": [0, 10, 20, 30, 40, 50, 60, 70, 80]}},
           "y2": {"datum": 0},
           "color": {"field": "category", "type": "nominal", "title": "category", "scale": {"domain": ["distorted", "original"], "range": ["#31688e", "#35b779"]}, "legend": {"orient": "top-right"}}
         }},
        {"data": {"name": "kde"}, "transform": [{"filter": "datum.model === 'LASER'"}],
         "mark": {"type": "line", "strokeWidth": 1.75, "interpolate": "monotone"},
         "encoding": {
           "x": {"field": "score", "type": "quantitative", "title": "Score"},
           "y": {"field": "density", "type": "quantitative", "title": "Density"},
           "stroke": {"field": "category", "type": "nominal", "scale": {"domain": ["distorted", "original"], "range": ["#31688e", "#35b779"]}, "legend": null}
         }}
      ]
    },
    {
      "title": "LaBSE",
      "width": 478, "height": 360,
      "layer": [
        {"data": {"name": "hist"}, "transform": [{"filter": "datum.model === 'LaBSE'"}],
         "mark": {"type": "bar", "fillOpacity": 0.5, "stroke": "white", "strokeWidth": 1, "strokeOpacity": 0.9},
         "encoding": {
           "x": {"field": "start", "type": "quantitative", "title": "Score", "scale": {"domain": [0.32, 1.0045], "nice": false, "zero": false}, "axis": {"values": [0.4, 0.5, 0.6, 0.7, 0.8, 0.9, 1.0], "format": ".1f"}},
           "x2": {"field": "end"},
           "y": {"field": "density", "type": "quantitative", "stack": null, "title": "Density", "scale": {"domain": [0, 105], "nice": false}, "axis": {"values": [0, 20, 40, 60, 80, 100]}},
           "y2": {"datum": 0},
           "color": {"field": "category", "type": "nominal", "title": "category", "scale": {"domain": ["distorted", "original"], "range": ["#31688e", "#35b779"]}, "legend": {"orient": "top-left"}}
         }},
        {"data": {"name": "kde"}, "transform": [{"filter": "datum.model === 'LaBSE'"}],
         "mark": {"type": "line", "strokeWidth": 1.75, "interpolate": "monotone"},
         "encoding": {
           "x": {"field": "score", "type": "quantitative", "title": "Score"},
           "y": {"field": "density", "type": "quantitative", "title": "Density"},
           "stroke": {"field": "category", "type": "nominal", "scale": {"domain": ["distorted", "original"], "range": ["#31688e", "#35b779"]}, "legend": null}
         }}
      ]
    }
  ],
  "columns": 2,
  "spacing": {"row": 73, "column": 71},
  "bounds": "flush",
  "resolve": {"scale": {"color": "independent", "stroke": "independent"}, "legend": {"color": "independent"}}
}
